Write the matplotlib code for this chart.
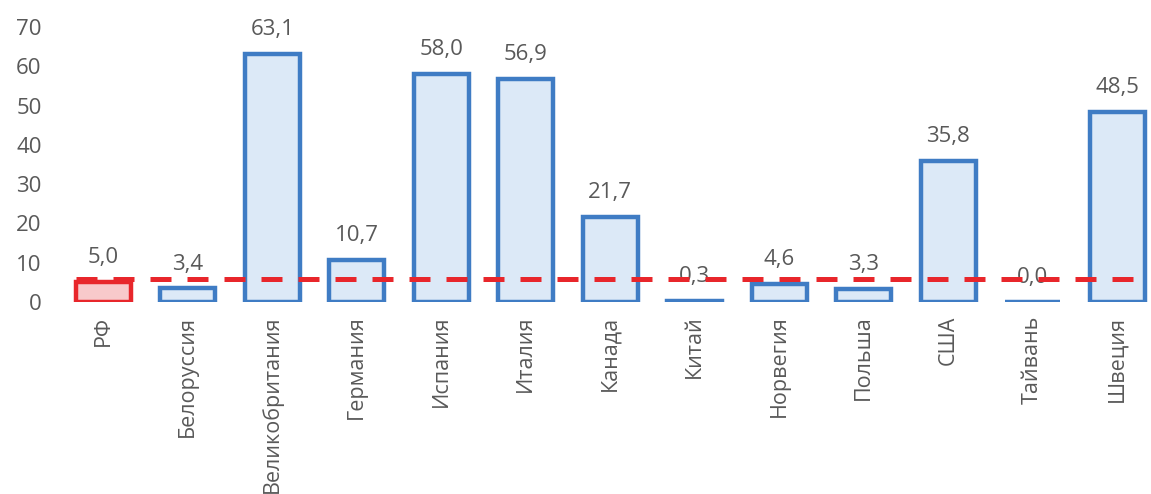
import matplotlib
matplotlib.use('Agg')
import matplotlib.pyplot as plt
import numpy as np

plt.rcParams['font.family'] = ['Open Sans', 'DejaVu Sans']

# данные
countries = ['РФ', 'Белоруссия', 'Великобритания', 'Германия', 'Испания', 'Италия',
             'Канада', 'Китай', 'Норвегия', 'Польша', 'США', 'Тайвань', 'Швеция']
values = [5.0, 3.4, 63.1, 10.7, 58.0, 56.9, 21.7, 0.3, 4.6, 3.3, 35.8, 0.0, 48.5]
level = 5.8  # уровень РФ (пунктир)

fig = plt.figure(figsize=(11.51, 4.94), dpi=100)
ax = fig.add_axes([0.053, 0.389, 0.947, 0.556])

x = np.arange(len(countries))
w = 0.65
face = ['#f8c9cb'] + ['#dce9f7'] * (len(countries) - 1)
edge = ['#e8262b'] + ['#3f7cc4'] * (len(countries) - 1)
ax.bar(x, values, width=w, color=face, edgecolor=edge, linewidth=3.2, zorder=2)

for xi, v in zip(x, values):
    ax.annotate(('%.1f' % v).replace('.', ','), (xi, v), xytext=(0, 10),
                textcoords='offset points', ha='center', va='bottom',
                fontsize=16, color='#595959', zorder=3)

ax.plot([x[0] - w / 2, x[-1] + w / 2], [level, level], color='#e8262b',
        linewidth=3.6, dashes=(4.2, 3.2), zorder=4)

ax.set_xlim(-0.5, 12.4)
ax.set_ylim(0, 70)
ax.set_yticks(range(0, 71, 10))
ax.set_xticks(x)
ax.set_xticklabels(countries, rotation=90, fontsize=15.5, color='#595959')
ax.tick_params(axis='y', labelsize=16, labelcolor='#595959', length=0, pad=14)
ax.tick_params(axis='x', length=0, pad=10)
for s in ax.spines.values():
    s.set_visible(False)

fig.savefig('out.png', dpi=100)
